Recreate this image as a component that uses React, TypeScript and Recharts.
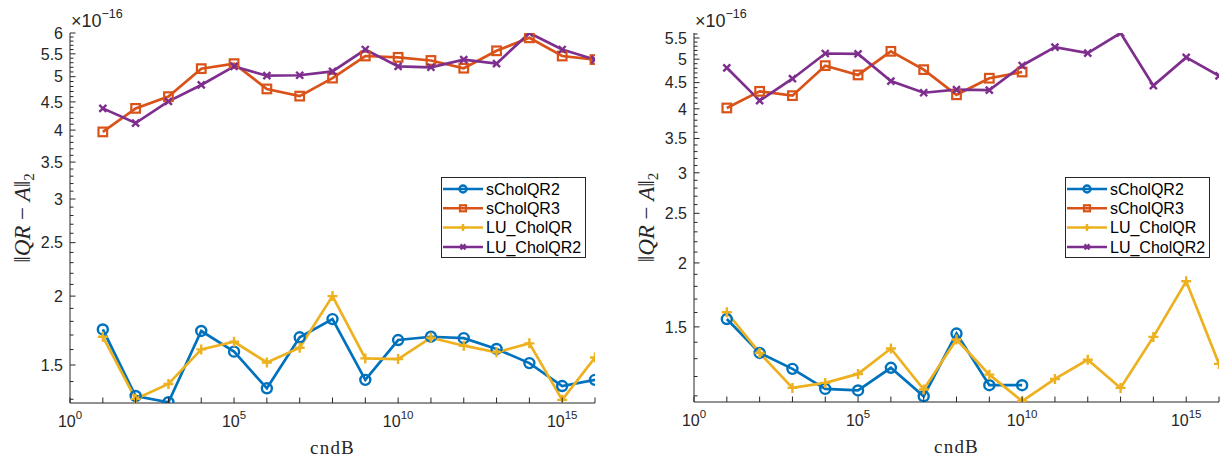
import React from "react";
import { LineChart, Line, XAxis, YAxis, Legend } from "recharts";

// cndB values (x axis, log scale)
const cndB = [1e1, 1e2, 1e3, 1e4, 1e5, 1e6, 1e7, 1e8, 1e9, 1e10, 1e11, 1e12, 1e13, 1e14, 1e15, 1e16];

// left panel, values in units of 1e-16
const leftSCholQR2 = [1.74, 1.318, 1.284, 1.729, 1.586, 1.361, 1.684, 1.817, 1.41, 1.665, 1.688, 1.678, 1.604, 1.512, 1.374, 1.41];
const leftSCholQR3 = [3.97, 4.38, 4.6, 5.17, 5.28, 4.75, 4.61, 4.97, 5.45, 5.42, 5.35, 5.18, 5.57, 5.88, 5.45, 5.37];
const leftLUCholQR = [1.688, 1.302, 1.386, 1.601, 1.653, 1.516, 1.612, 2.0, 1.542, 1.538, 1.682, 1.626, 1.582, 1.642, 1.297, 1.548];
const leftLUCholQR2 = [4.38, 4.12, 4.51, 4.83, 5.22, 5.02, 5.03, 5.11, 5.6, 5.22, 5.2, 5.37, 5.28, 6.0, 5.6, 5.37];

// right panel, values in units of 1e-16 (sCholQR2/3 stop after 1e10)
const rightSCholQR2 = [1.554, 1.334, 1.242, 1.135, 1.127, 1.248, 1.098, 1.456, 1.154, 1.154, null, null, null, null, null, null];
const rightSCholQR3 = [4.015, 4.327, 4.244, 4.857, 4.658, 5.18, 4.77, 4.26, 4.59, 4.72, null, null, null, null, null, null];
const rightLUCholQR = [1.602, 1.334, 1.14, 1.166, 1.214, 1.361, 1.132, 1.417, 1.21, 1.074, 1.187, 1.294, 1.14, 1.434, 1.842, 1.27];
const rightLUCholQR2 = [4.81, 4.15, 4.58, 5.13, 5.12, 4.53, 4.3, 4.36, 4.35, 4.86, 5.28, 5.14, 5.625, 4.44, 5.04, 4.64];

// ticks
const xTicks = [1e0, 1e1, 1e2, 1e3, 1e4, 1e5, 1e6, 1e7, 1e8, 1e9, 1e10, 1e11, 1e12, 1e13, 1e14, 1e15, 1e16];
const xTickLabels = [0, 5, 10, 15]; // exponents that get a label
const leftYMajor = [1.5, 2, 2.5, 3, 3.5, 4, 4.5, 5, 5.5, 6];
const leftYMinor = [1.3, 1.4, 1.6, 1.7, 1.8, 1.9, 2.1, 2.2, 2.3, 2.4, 2.6, 2.7, 2.8, 2.9, 3.1, 3.2, 3.3, 3.4, 3.6, 3.7, 3.8, 3.9, 4.1, 4.2, 4.3, 4.4, 4.6, 4.7, 4.8, 4.9, 5.1, 5.2, 5.3, 5.4, 5.6, 5.7, 5.8, 5.9];
const rightYMajor = [1.5, 2, 2.5, 3, 3.5, 4, 4.5, 5, 5.5];
const rightYMinor = [1.1, 1.2, 1.3, 1.4, 1.6, 1.7, 1.8, 1.9, 2.1, 2.2, 2.3, 2.4, 2.6, 2.7, 2.8, 2.9, 3.1, 3.2, 3.3, 3.4, 3.6, 3.7, 3.8, 3.9, 4.1, 4.2, 4.3, 4.4, 4.6, 4.7, 4.8, 4.9, 5.1, 5.2, 5.3, 5.4, 5.6];

const seriesNames = ["sCholQR2", "sCholQR3", "LU_CholQR", "LU_CholQR2"];
const seriesKeys = ["s2", "s3", "lu", "lu2"];
const seriesColors = ["#0072BD", "#D95319", "#EDB120", "#7E2F8E"];
const seriesMarkers = ["o", "s", "+", "x"];

const AXIS = "#262626";
const SANS = "'Liberation Sans', Arial, sans-serif";
const SERIF = "'Liberation Serif', 'DejaVu Serif', serif";

function buildRows(cols: (number | null)[][]) {
  return cndB.map((x, i) => {
    const row: any = { x };
    seriesKeys.forEach((k, j) => (row[k] = cols[j][i]));
    return row;
  });
}

const leftRows = buildRows([leftSCholQR2, leftSCholQR3, leftLUCholQR, leftLUCholQR2]);
const rightRows = buildRows([rightSCholQR2, rightSCholQR3, rightLUCholQR, rightLUCholQR2]);

function Marker({ cx, cy, kind, color, size = 1 }: any) {
  if (cx == null || cy == null || Number.isNaN(cy)) return <g />;
  const sw = 2.4;
  if (kind === "o")
    return <circle cx={cx} cy={cy} r={5 * size} fill="none" stroke={color} strokeWidth={sw} />;
  if (kind === "s") {
    const h = 4.3 * size;
    return <rect x={cx - h} y={cy - h} width={2 * h} height={2 * h} fill="none" stroke={color} strokeWidth={2.2} />;
  }
  if (kind === "+") {
    const h = 5 * size;
    return <path d={`M${cx - h},${cy}H${cx + h}M${cx},${cy - h}V${cy + h}`} stroke={color} strokeWidth={sw} />;
  }
  const h = 3.5 * size;
  return (
    <path
      d={`M${cx - h},${cy - h}L${cx + h},${cy + h}M${cx - h},${cy + h}L${cx + h},${cy - h}`}
      stroke={color}
      strokeWidth={sw}
    />
  );
}

const isMajor = (v: number, major: number[]) => major.some((m) => Math.abs(m - v) < 1e-9);

function makeLeftTick(major: number[]) {
  return (p: any) => {
    const { x, y, payload } = p;
    const big = isMajor(payload.value, major);
    return (
      <g>
        <line x1={x} y1={y} x2={x + (big ? 5.5 : 3.5)} y2={y} stroke={AXIS} strokeWidth={1} />
        {big && (
          <text x={x - 7} y={y} dy="0.36em" textAnchor="end" fontFamily={SANS} fontSize={16} fill={AXIS}>
            {payload.value}
          </text>
        )}
      </g>
    );
  };
}

function makeRightTick(major: number[]) {
  return (p: any) => {
    const { x, y, payload } = p;
    const big = isMajor(payload.value, major);
    return <line x1={x} y1={y} x2={x - (big ? 5.5 : 3.5)} y2={y} stroke={AXIS} strokeWidth={1} />;
  };
}

function BottomTick(p: any) {
  const { x, y, payload } = p;
  const e = Math.round(Math.log10(payload.value));
  return (
    <g>
      <line x1={x} y1={y} x2={x} y2={y - 5.5} stroke={AXIS} strokeWidth={1} />
      {xTickLabels.includes(e) && (
        <text x={x} y={y + 24} textAnchor="middle" fontFamily={SANS} fontSize={16} fill={AXIS}>
          10
          <tspan fontSize={11.5} dy={-8}>
            {e}
          </tspan>
        </text>
      )}
    </g>
  );
}

function TopTick(p: any) {
  const { x, y } = p;
  return <line x1={x} y1={y} x2={x} y2={y + 5.5} stroke={AXIS} strokeWidth={1} />;
}

function XLabel({ viewBox }: any) {
  return (
    <text
      x={viewBox.x + viewBox.width / 2}
      y={viewBox.y + 51}
      textAnchor="middle"
      fontFamily={SERIF}
      fontSize={19}
      letterSpacing={1.2}
      fill={AXIS}
    >
      cndB
    </text>
  );
}

function YLabel({ viewBox }: any) {
  const left = viewBox.x + viewBox.width;
  const cx = left - 40;
  const cy = viewBox.y + viewBox.height / 2;
  return (
    <g>
      <text
        transform={`translate(${cx},${cy}) rotate(-90)`}
        textAnchor="middle"
        fontFamily={SERIF}
        fontSize={23}
        fill={AXIS}
      >
        ‖<tspan fontStyle="italic">QR</tspan> − <tspan fontStyle="italic">A</tspan>‖
        <tspan fontSize={15} dy={4}>
          2
        </tspan>
      </text>
      <text x={left + 1} y={viewBox.y - 6} fontFamily={SANS} fontSize={18} fill={AXIS}>
        ×10
        <tspan fontSize={12.5} dy={-9}>
          −16
        </tspan>
      </text>
    </g>
  );
}

function LegendBox() {
  const w = 145;
  const h = 81;
  return (
    <svg width={w} height={h} style={{ display: "block" }}>
      <rect x={0.5} y={0.5} width={w - 1} height={h - 1} fill="#fff" stroke={AXIS} strokeWidth={1} />
      {seriesNames.map((name, j) => {
        const yy = 12 + j * 19.3;
        return (
          <g key={name}>
            <line x1={2} y1={yy} x2={42} y2={yy} stroke={seriesColors[j]} strokeWidth={2.5} />
            <Marker cx={22} cy={yy} kind={seriesMarkers[j]} color={seriesColors[j]} size={0.7} />
            <text x={45} y={yy} dy="0.36em" fontFamily={SANS} fontSize={16} fill="#000">
              {name}
            </text>
          </g>
        );
      })}
    </svg>
  );
}

function Panel({ rows, yDomain, yMajor, yMinor, yAxisWidth, marginRight, xAxisHeight, legendLeft }: any) {
  const yTicks = [...yMinor, ...yMajor].sort((a, b) => a - b);
  return (
    <LineChart
      width={614}
      height={464}
      data={rows}
      margin={{ top: 33, right: marginRight, left: 0, bottom: 0 }}
    >
      <XAxis
        dataKey="x"
        type="number"
        scale="log"
        domain={[1, 1e16]}
        allowDataOverflow
        ticks={xTicks}
        interval={0}
        height={xAxisHeight}
        tickSize={0}
        tickMargin={0}
        tickLine={false}
        axisLine={{ stroke: AXIS }}
        tick={BottomTick}
        label={{ content: XLabel }}
      />
      <XAxis
        xAxisId="top"
        dataKey="x"
        orientation="top"
        type="number"
        scale="log"
        domain={[1, 1e16]}
        allowDataOverflow
        ticks={xTicks}
        interval={0}
        height={0}
        tickSize={0}
        tickMargin={0}
        tickLine={false}
        axisLine={{ stroke: AXIS }}
        tick={TopTick}
      />
      <YAxis
        type="number"
        scale="log"
        domain={yDomain}
        allowDataOverflow
        ticks={yTicks}
        interval={0}
        width={yAxisWidth}
        tickSize={0}
        tickMargin={0}
        tickLine={false}
        axisLine={{ stroke: AXIS }}
        tick={makeLeftTick(yMajor)}
        label={{ content: YLabel }}
      />
      <YAxis
        yAxisId="right"
        orientation="right"
        type="number"
        scale="log"
        domain={yDomain}
        allowDataOverflow
        ticks={yTicks}
        interval={0}
        width={0}
        tickSize={0}
        tickMargin={0}
        tickLine={false}
        axisLine={{ stroke: AXIS }}
        tick={makeRightTick(yMajor)}
      />
      {seriesKeys.map((k, j) => (
        <Line
          key={k}
          dataKey={k}
          name={seriesNames[j]}
          stroke={seriesColors[j]}
          strokeWidth={2.7}
          isAnimationActive={false}
          connectNulls={false}
          dot={(p: any) => (
            <Marker key={`${k}-${p.index}`} cx={p.cx} cy={p.cy} kind={seriesMarkers[j]} color={seriesColors[j]} />
          )}
          activeDot={false}
        />
      ))}
      <Legend
        layout="vertical"
        align="center"
        verticalAlign="middle"
        content={LegendBox}
        wrapperStyle={{ left: legendLeft, top: 177, width: 145, height: 81 }}
      />
    </LineChart>
  );
}

export default function App() {
  return (
    <div style={{ position: "absolute", left: 0, top: 0, width: 1228, height: 464, background: "#fff" }}>
      <div style={{ position: "absolute", left: 0, top: 0 }}>
        <Panel
          rows={leftRows}
          yDomain={[1.28, 6.0]}
          yMajor={leftYMajor}
          yMinor={leftYMinor}
          yAxisWidth={70}
          marginRight={19}
          xAxisHeight={61}
          legendLeft={441}
        />
      </div>
      <div style={{ position: "absolute", left: 614, top: 0 }}>
        <Panel
          rows={rightRows}
          yDomain={[1.07, 5.625]}
          yMajor={rightYMajor}
          yMinor={rightYMinor}
          yAxisWidth={80}
          marginRight={9}
          xAxisHeight={62}
          legendLeft={451}
        />
      </div>
    </div>
  );
}
